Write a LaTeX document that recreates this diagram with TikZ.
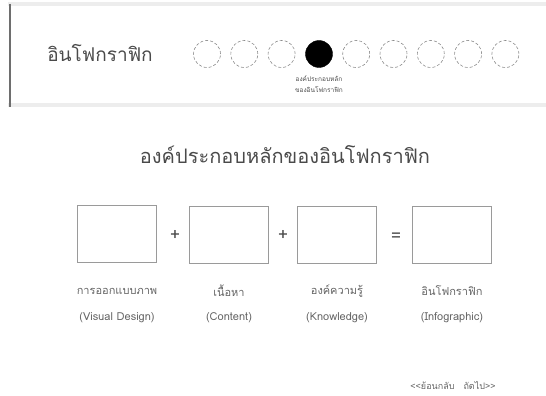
\documentclass[tikz,border=0pt]{standalone}
\usepackage{fontspec}
\setmainfont{Loma}[Script=Thai]
\usepackage{xcolor}
\usepackage{tikz}
\usetikzlibrary{positioning}
\definecolor{infotext}{HTML}{4A4A4A}
\definecolor{infoline}{HTML}{6E6E6E}
\definecolor{infoband}{HTML}{EDEDED}
\definecolor{infodash}{HTML}{8C8C8C}
\definecolor{infobox}{HTML}{9A9A9A}

\begin{document}
\begin{tikzpicture}[
    x=1pt,y=-1pt,
    dot/.style     = {circle,draw=infodash,densely dashed,line width=0.6pt,
                      minimum size=27pt,inner sep=0pt},
    dotfull/.style = {circle,fill=black,draw=black,minimum size=27pt,inner sep=0pt},
    compbox/.style = {rectangle,draw=infobox,line width=0.9pt,
                      minimum width=79pt,minimum height=57pt,inner sep=0pt},
    op/.style      = {font=\fontsize{17}{17}\selectfont,text=infotext,inner sep=0pt},
    entete/.style  = {font=\fontsize{19}{19}\selectfont,text=infotext,inner sep=0pt},
    titre/.style   = {font=\fontsize{20}{20}\selectfont,text=infotext,inner sep=0pt},
    petit/.style   = {font=\fontsize{6.5}{11}\selectfont,text=infotext,align=center,inner sep=0pt},
    etiq/.style    = {font=\fontsize{11}{11}\selectfont,text=infotext!85,inner sep=0pt},
    nav/.style     = {font=\fontsize{9}{9}\selectfont,text=infotext!85,inner sep=0pt},
  ]
  \useasboundingbox (0,0) rectangle (546,396);

  % ── Bandeau du haut ───────────────────────────────────────────────────────
  \fill[infoband] (8,2)   rectangle (546,6);
  \fill[infoband] (8,103) rectangle (546,107);
  \draw[infoline,line width=1.2pt] (10,4) -- (10,107);

  \node[entete] (head) at (100,53) {อินโฟกราฟิก};

  \foreach \i in {1,2,3,5,6,7,8,9}
    \node[dot] (c\i) at ({207+37.3*(\i-1)},54) {};
  \node[dotfull] (c4) at (319,54) {};
  \node[petit,below=8pt of c4] (ici) {องค์ประกอบหลัก\\ของอินโฟกราฟิก};

  % ── Titre ─────────────────────────────────────────────────────────────────
  \node[titre] (title) at (285,155) {องค์ประกอบหลักของอินโฟกราฟิก};

  % ── Équation des composantes ──────────────────────────────────────────────
  \node[compbox] (b1) at (117,234) {};
  \node[compbox] (b2) at (229,235) {};
  \node[compbox] (b3) at (337,235) {};
  \node[compbox] (b4) at (452,235) {};

  \node[op] (p1) at (175,235) {+};
  \node[op] (p2) at (283,235) {+};
  \node[op] (eq) at (396,237) {=};

  \node[etiq] (t1) at (117,291) {การออกแบบภาพ};
  \node[etiq] (t2) at (229,291) {เนื้อหา};
  \node[etiq] (t3) at (337,291) {องค์ความรู้};
  \node[etiq] (t4) at (452,291) {อินโฟกราฟิก};

  \node[etiq] (e1) at (117,318) {(Visual Design)};
  \node[etiq] (e2) at (229,318) {(Content)};
  \node[etiq] (e3) at (337,318) {(Knowledge)};
  \node[etiq] (e4) at (452,318) {(Infographic)};

  % ── Navigation ────────────────────────────────────────────────────────────
  \node[nav] (back) at (453,385) {<\kern0pt<ย้อนกลับ\quad ถัดไป>\kern0pt>};

\end{tikzpicture}
\end{document}
